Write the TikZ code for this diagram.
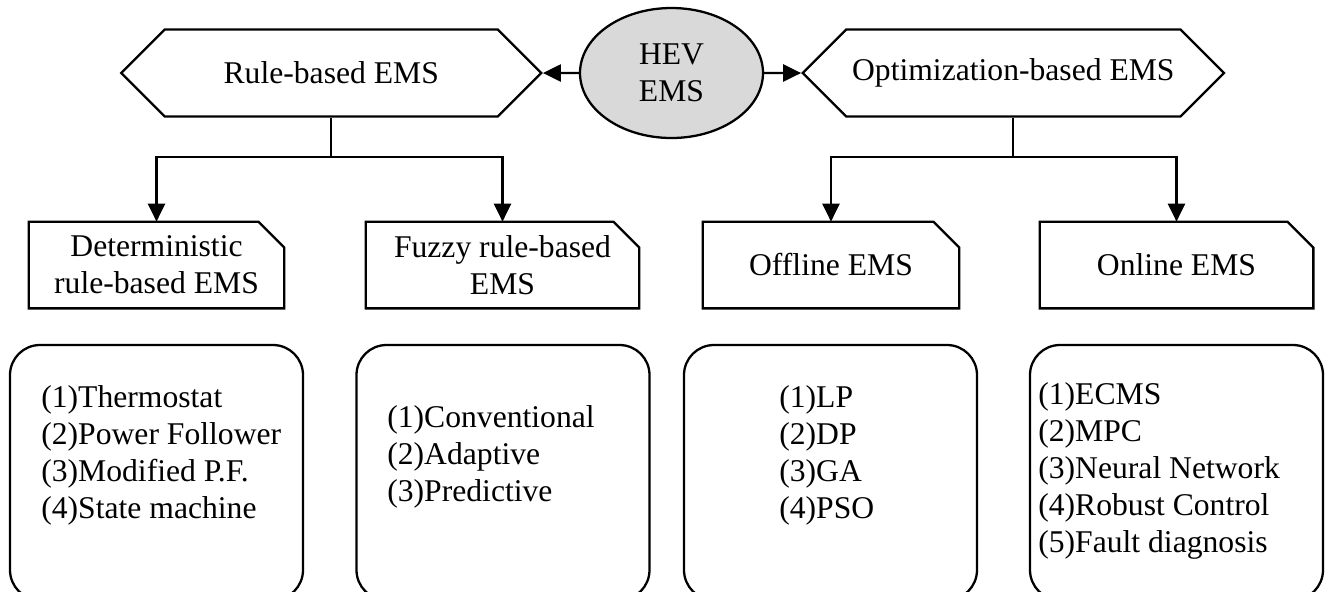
\documentclass[tikz,border=0pt]{standalone}
\usepackage{fontspec}
\setmainfont{Liberation Serif}
\usetikzlibrary{arrows.meta,shapes.geometric,shapes.symbols,positioning,calc}

\begin{document}
\begin{tikzpicture}[
  every node/.style={font=\fontsize{18}{21}\selectfont},
  edge/.style={line width=1.3pt},
  hexa/.style={signal, signal to=west and east, signal pointer angle=90, draw, edge,
               minimum width=8.4cm, minimum height=1.74cm},
  root/.style={ellipse, draw, edge, fill=black!15,
               minimum width=3.66cm, minimum height=2.6cm, align=center, inner sep=1pt},
  kind/.style={rectangle, minimum height=1.72cm, align=center, inner sep=0pt},
  holder/.style={rectangle, rounded corners=0.6cm, draw, edge,
                 minimum width=5.86cm, minimum height=5.1cm},
  items/.style={align=left, inner sep=0pt, anchor=west},
  arr/.style={-{Triangle[length=0.36cm,width=0.34cm]}, edge}
]
\useasboundingbox (0,0) rectangle (26.6,-11.82);
\clip (0,0) rectangle (26.6,-11.82);

% top row
\node[root] (hev) at (13.43,-1.46) {HEV\\EMS};
\node[hexa, left=0.72cm of hev]  (rulehex) {Rule-based EMS};
\node[hexa, right=0.74cm of hev] (opthex)  {Optimization-based EMS};

% second row
\node[kind, minimum width=5.1cm]  (det)     at (3.13,-5.3)  {Deterministic\\rule-based EMS};
\node[kind, minimum width=5.46cm] (fuzzy)   at (10.05,-5.3) {Fuzzy rule-based\\EMS};
\node[kind, minimum width=5.12cm] (offline) at (16.62,-5.3) {Offline EMS};
\node[kind, minimum width=5.46cm] (online)  at (23.53,-5.3) {Online EMS};

% folded corner outlines
\foreach \n in {det,fuzzy,offline,online}
  \draw[edge] (\n.south west) -- (\n.north west) -- ([xshift=-0.52cm]\n.north east)
              -- ([yshift=-0.52cm]\n.north east) -- (\n.south east) -- cycle;

% method boxes
\node[holder] (detbox)     at (3.13,-9.45)  {};
\node[holder] (fuzzybox)   at (10.06,-9.45) {};
\node[holder] (offlinebox) at (16.61,-9.45) {};
\node[holder] (onlinebox)  at (23.53,-9.45) {};

\node[items] (detlist)     at (0.82,-9.11)  {(1)Thermostat\\(2)Power Follower\\(3)Modified P.F.\\(4)State machine};
\node[items] (fuzzylist)   at (7.74,-9.14)  {(1)Conventional\\(2)Adaptive\\(3)Predictive};
\node[items] (offlinelist) at (15.58,-9.11) {(1)LP\\(2)DP\\(3)GA\\(4)PSO};
\node[items] (onlinelist)  at (20.76,-9.42) {(1)ECMS\\(2)MPC\\(3)Neural Network\\(4)Robust Control\\(5)Fault diagnosis};

\draw[arr] (hev) -- (rulehex);
\draw[arr] (hev) -- (opthex);
\draw[arr] (rulehex.south) -- ++(0,-0.78) -| (det.north);
\draw[arr] (rulehex.south) -- ++(0,-0.78) -| (fuzzy.north);
\draw[arr] (opthex.south) -- ++(0,-0.78) -| (offline.north);
\draw[arr] (opthex.south) -- ++(0,-0.78) -| (online.north);

\end{tikzpicture}
\end{document}
